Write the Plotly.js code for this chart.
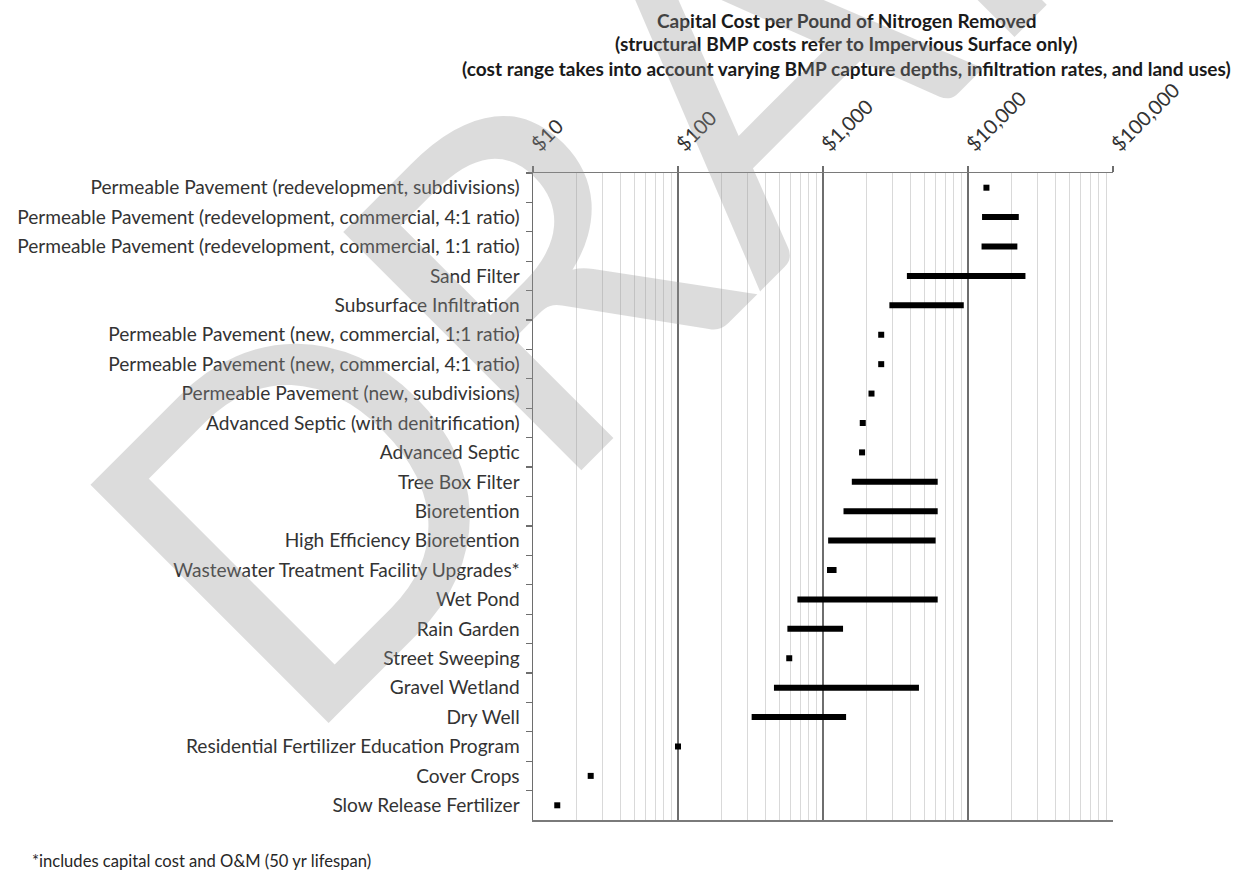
<!DOCTYPE html>
<html>
<head>
<meta charset="utf-8">
<script src="https://cdn.plot.ly/plotly-3.0.1.min.js"></script>
<style>
html, body { margin: 0; padding: 0; background: #ffffff; }
#chart { width: 1241px; height: 873px; }
</style>
</head>
<body>
<div id="chart"></div>
<script>
// ---- data ----
const categories = [
  'Permeable Pavement (redevelopment, subdivisions)',
  'Permeable Pavement (redevelopment, commercial, 4:1 ratio)',
  'Permeable Pavement (redevelopment, commercial, 1:1 ratio)',
  'Sand Filter',
  'Subsurface Infiltration',
  'Permeable Pavement (new, commercial, 1:1 ratio)',
  'Permeable Pavement (new, commercial, 4:1 ratio)',
  'Permeable Pavement (new, subdivisions)',
  'Advanced Septic (with denitrification)',
  'Advanced Septic',
  'Tree Box Filter',
  'Bioretention',
  'High Efficiency Bioretention',
  'Wastewater Treatment Facility Upgrades*',
  'Wet Pond',
  'Rain Garden',
  'Street Sweeping',
  'Gravel Wetland',
  'Dry Well',
  'Residential Fertilizer Education Program',
  'Cover Crops',
  'Slow Release Fertilizer'
];
const minCost = [13400, 12500, 12400, 3790, 2870, 2520, 2520, 2160, 1880, 1860, 1580, 1385, 1085, 1065, 666, 568, 585, 459, 322, 100, 25, 14.7];
const maxCost = [13400, 22400, 21900, 24900, 9350, 2520, 2520, 2160, 1880, 1860, 6180, 6180, 5980, 1240, 6180, 1375, 585, 4590, 1443, 100, 25, 14.7];

const tickValues = [10, 100, 1000, 10000, 100000];
const tickLabels = ['$10', '$100', '$1,000', '$10,000', '$100,000'];
const minorDigits = [2, 3, 4, 5, 6, 7, 8, 9];

const titleLines = [
  'Capital Cost per Pound of Nitrogen Removed',
  '(structural BMP costs refer to Impervious Surface only)',
  '(cost range takes into account varying BMP capture depths, infiltration rates, and land uses)'
];
const footnoteText = '*includes capital cost and O&M (50 yr lifespan)';
const watermarkText = 'DRAFT';

// ---- helpers ----
const FAMILY = 'Lato';
const FONT = 'Lato, "Open Sans", "DejaVu Sans", sans-serif';
const canvas = document.createElement('canvas');
const ctx = canvas.getContext('2d');
function measure(text, family, weight, size) {
  ctx.font = weight + ' ' + size + 'px ' + family;
  return ctx.measureText(text).width;
}
function fitSize(text, family, weight, targetWidth) {
  return 100 * targetWidth / measure(text, family, weight, 100);
}
const labelSize = fitSize(categories[1], FAMILY, 400, 503);
const titleSize = fitSize(titleLines[2], FAMILY, 700, 770);
const tickSize = fitSize(tickLabels[4], FAMILY, 400, 86);
const footSize = fitSize(footnoteText, FAMILY, 400, 340);

// minor gridline positions on the log axis
const minorVals = [];
for (let d = 0; d < tickValues.length - 1; d++) {
  minorDigits.forEach(m => minorVals.push(m * tickValues[d]));
}

// ---- traces ----
const rangeX = [], rangeY = [], pointX = [], pointY = [];
categories.forEach((c, i) => {
  if (maxCost[i] > minCost[i]) {
    rangeX.push(minCost[i], maxCost[i], null);
    rangeY.push(c, c, null);
  } else {
    pointX.push(minCost[i]);
    pointY.push(c);
  }
});

const traces = [
  {
    type: 'scatter', mode: 'lines', x: rangeX, y: rangeY,
    connectgaps: false,
    line: { color: '#000000', width: 6 },
    hoverinfo: 'skip'
  },
  {
    type: 'scatter', mode: 'markers', x: pointX, y: pointY,
    marker: { symbol: 'square', size: 6, color: '#000000', line: { width: 0 } },
    hoverinfo: 'skip'
  }
];

const M = { l: 533, r: 128, t: 173, b: 53 };
const W = 1241, H = 873;
const plotW = W - M.l - M.r, plotH = H - M.t - M.b;
const px2x = px => (px - M.l) / plotW;
const px2y = py => (H - M.b - py) / plotH;

// watermark: word rotated -45 deg, its "D" centred where the reference D sits
const c45 = Math.SQRT1_2;
const wmSize = 470;
const wmAdvWord = measure(watermarkText, FAMILY, 400, wmSize);
const wmAdvD = measure(watermarkText[0], FAMILY, 400, wmSize);
const dCentre = [311, 501];
const ds = wmAdvWord / 2 - (wmAdvD / 2 + 0.02 * wmSize);
const du = 0.027 * wmSize;
const wmCx = dCentre[0] + ds * c45 - du * c45;
const wmCy = dCentre[1] - ds * c45 - du * c45;

const titleY = [20, 44, 68];
const annotations = titleLines.map((t, i) => ({
  text: '<b>' + t + '</b>', showarrow: false,
  xref: 'paper', yref: 'paper',
  x: px2x(846), xanchor: 'center',
  y: px2y(titleY[i]), yanchor: 'middle',
  font: { family: FONT, size: titleSize, color: '#1a1a1a' }
}));
annotations.push({
  text: footnoteText, showarrow: false,
  xref: 'paper', yref: 'paper',
  x: px2x(30), xanchor: 'left',
  y: px2y(861), yanchor: 'middle',
  font: { family: FONT, size: footSize, color: '#262626' }
});
annotations.push({
  text: watermarkText, showarrow: false,
  xref: 'paper', yref: 'paper',
  x: px2x(wmCx), y: px2y(wmCy), xanchor: 'center', yanchor: 'middle',
  textangle: -45,
  font: { family: FONT, size: wmSize, weight: 400, color: 'rgba(150,150,150,0.33)' }
});

const layout = {
  width: W, height: H,
  margin: M,
  paper_bgcolor: '#ffffff',
  plot_bgcolor: '#ffffff',
  showlegend: false,
  font: { family: FONT, color: '#333333' },
  xaxis: {
    type: 'log',
    side: 'top',
    range: [1, 5],
    tickmode: 'array',
    tickvals: tickValues,
    ticktext: tickLabels,
    tickangle: -45,
    tickfont: { family: FONT, size: tickSize, color: '#333333' },
    ticks: 'outside', ticklen: 6, tickwidth: 1.2, tickcolor: '#6e6e6e',
    ticklabelstandoff: 2,
    showline: true, linecolor: '#7a7a7a', linewidth: 1.5, mirror: true,
    showgrid: true, gridcolor: '#6e6e6e', gridwidth: 1.2,
    minor: { tickmode: 'array', tickvals: minorVals, showgrid: true, gridcolor: '#d9d9d9', gridwidth: 1, ticks: '' },
    zeroline: false, fixedrange: true
  },
  yaxis: {
    type: 'category',
    categoryorder: 'array',
    categoryarray: categories,
    range: [categories.length - 0.5, -0.5],
    tickson: 'boundaries',
    ticks: 'outside', ticklen: 6, tickwidth: 1.2, tickcolor: '#6e6e6e',
    ticklabelstandoff: 8,
    tickfont: { family: FONT, size: labelSize, color: '#333333' },
    showline: true, linecolor: '#6e6e6e', linewidth: 1.5,
    showgrid: false, zeroline: false, fixedrange: true
  },
  annotations: annotations
};

Plotly.newPlot('chart', traces, layout, { displayModeBar: false, staticPlot: true });
</script>
</body>
</html>
